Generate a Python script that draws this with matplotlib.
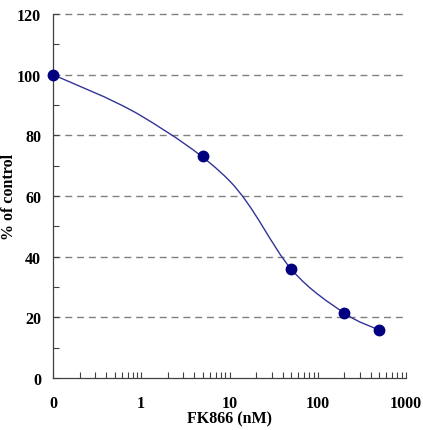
import numpy as np
import matplotlib
matplotlib.use("Agg")
import matplotlib.pyplot as plt
from matplotlib.path import Path
from matplotlib.patches import PathPatch
from matplotlib.ticker import FixedLocator, NullFormatter

# measured data (0 nM is plotted at 0.1 on the log axis)
conc = [0.1, 5, 50, 200, 500]
pct = [100, 73.3, 35.9, 21.4, 15.8]
# fitted curve values
fit_x = [0.1, 1, 10, 50, 200, 500]
fit_y = [100, 86.4, 65.0, 35.9, 21.4, 15.8]
xtick_vals = [0.1, 1, 10, 100, 1000]
xtick_labels = ["0", "1", "10", "100", "1000"]
yticks = [0, 20, 40, 60, 80, 100, 120]

plt.rcParams['font.family'] = ['Liberation Serif', 'DejaVu Serif']
plt.rcParams['font.weight'] = 'bold'

fig = plt.figure(figsize=(4.23, 4.31), dpi=100)
ax = fig.add_axes([53/423, 1-379/431, (406-53)/423, (379-15)/431])
ax.set_xscale('log')
ax.set_xlim(0.1, 1000)
ax.set_ylim(0, 120)

# smooth curve (Catmull-Rom style Bezier in log-x space)
lx = np.log10(fit_x)
fy = np.array(fit_y, dtype=float)
n = len(lx)
verts = [(lx[0], fy[0])]
codes = [Path.MOVETO]
for i in range(n - 1):
    p0 = np.array([lx[max(i-1, 0)], fy[max(i-1, 0)]])
    p1 = np.array([lx[i], fy[i]])
    p2 = np.array([lx[i+1], fy[i+1]])
    p3 = np.array([lx[min(i+2, n-1)], fy[min(i+2, n-1)]])
    c1 = p1 + (p2 - p0) / 6.0
    c2 = p2 - (p3 - p1) / 6.0
    verts += [tuple(c1), tuple(c2), tuple(p2)]
    codes += [Path.CURVE4] * 3
verts = [(10**vx, vy) for vx, vy in verts]
patch = PathPatch(Path(verts, codes), facecolor='none', edgecolor='#333399',
                  lw=1.0, transform=ax.transData, zorder=3)
ax.add_patch(patch)

ax.plot(conc, pct, linestyle='none', marker='o', markersize=7.5,
        color='#000080', clip_on=False, zorder=4)

ax.xaxis.set_major_locator(FixedLocator(xtick_vals))
ax.set_xticklabels(xtick_labels)
minors = [m * 10.0**d for d in range(-1, 3) for m in range(2, 10)]
ax.xaxis.set_minor_locator(FixedLocator(minors))
ax.xaxis.set_minor_formatter(NullFormatter())
ax.set_yticks(yticks)
ax.yaxis.set_minor_locator(FixedLocator([10, 30, 50, 70, 90, 110]))

ax.tick_params(axis='both', which='both', direction='in', length=4,
               width=0.8, color='#404040')
ax.tick_params(axis='x', which='major', pad=12, labelsize=11.5)
ax.tick_params(axis='y', which='major', pad=8.5, labelsize=11.5)

for s in ['top', 'right']:
    ax.spines[s].set_visible(False)
for s in ['left', 'bottom']:
    ax.spines[s].set_color('#404040')
    ax.spines[s].set_linewidth(0.9)

for v in yticks[1:]:
    ax.axhline(v, color='#808080', lw=1.0, linestyle=(0, (5, 3.5)), zorder=1,
               clip_on=False)

ax.set_xlabel('FK866 (nM)', fontsize=11.5, fontweight='bold', labelpad=0)
ax.set_ylabel('% of control', fontsize=11.5, fontweight='bold')
ax.yaxis.set_label_coords(-0.103, 0.5)

fig.savefig('out.png', dpi=100)
